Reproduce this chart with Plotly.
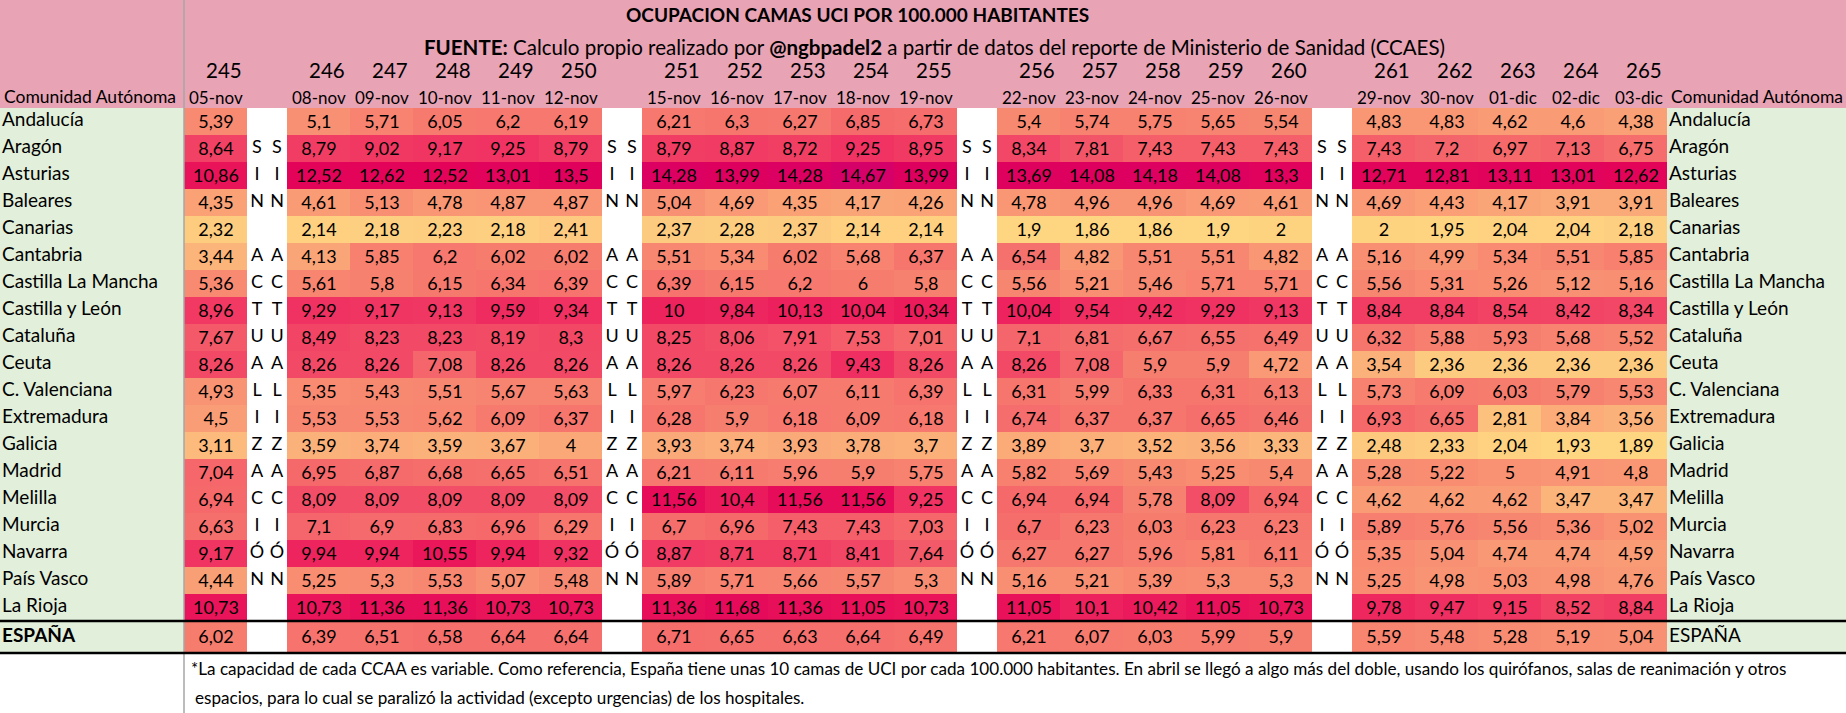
import plotly.graph_objects as go

# ---------------- DATA ----------------
report_nums = [245, 246, 247, 248, 249, 250, 251, 252, 253, 254, 255,
               256, 257, 258, 259, 260, 261, 262, 263, 264, 265]
dates = ["05-nov", "08-nov", "09-nov", "10-nov", "11-nov", "12-nov",
         "15-nov", "16-nov", "17-nov", "18-nov", "19-nov",
         "22-nov", "23-nov", "24-nov", "25-nov", "26-nov",
         "29-nov", "30-nov", "01-dic", "02-dic", "03-dic"]
group_sizes = [1, 5, 5, 5, 5]   # weeks between the "SIN ACTUALIZACIÓN" gaps

regions = ["Andalucía", "Aragón", "Asturias", "Baleares", "Canarias", "Cantabria",
           "Castilla La Mancha", "Castilla y León", "Cataluña", "Ceuta",
           "C. Valenciana", "Extremadura", "Galicia", "Madrid", "Melilla",
           "Murcia", "Navarra", "País Vasco", "La Rioja"]
total_label = "ESPAÑA"

andalucia = [5.39, 5.1, 5.71, 6.05, 6.2, 6.19, 6.21, 6.3, 6.27, 6.85, 6.73, 5.4, 5.74, 5.75, 5.65, 5.54, 4.83, 4.83, 4.62, 4.6, 4.38]
aragon = [8.64, 8.79, 9.02, 9.17, 9.25, 8.79, 8.79, 8.87, 8.72, 9.25, 8.95, 8.34, 7.81, 7.43, 7.43, 7.43, 7.43, 7.2, 6.97, 7.13, 6.75]
asturias = [10.86, 12.52, 12.62, 12.52, 13.01, 13.5, 14.28, 13.99, 14.28, 14.67, 13.99, 13.69, 14.08, 14.18, 14.08, 13.3, 12.71, 12.81, 13.11, 13.01, 12.62]
baleares = [4.35, 4.61, 5.13, 4.78, 4.87, 4.87, 5.04, 4.69, 4.35, 4.17, 4.26, 4.78, 4.96, 4.96, 4.69, 4.61, 4.69, 4.43, 4.17, 3.91, 3.91]
canarias = [2.32, 2.14, 2.18, 2.23, 2.18, 2.41, 2.37, 2.28, 2.37, 2.14, 2.14, 1.9, 1.86, 1.86, 1.9, 2, 2, 1.95, 2.04, 2.04, 2.18]
cantabria = [3.44, 4.13, 5.85, 6.2, 6.02, 6.02, 5.51, 5.34, 6.02, 5.68, 6.37, 6.54, 4.82, 5.51, 5.51, 4.82, 5.16, 4.99, 5.34, 5.51, 5.85]
castilla_la_mancha = [5.36, 5.61, 5.8, 6.15, 6.34, 6.39, 6.39, 6.15, 6.2, 6, 5.8, 5.56, 5.21, 5.46, 5.71, 5.71, 5.56, 5.31, 5.26, 5.12, 5.16]
castilla_y_leon = [8.96, 9.29, 9.17, 9.13, 9.59, 9.34, 10, 9.84, 10.13, 10.04, 10.34, 10.04, 9.54, 9.42, 9.29, 9.13, 8.84, 8.84, 8.54, 8.42, 8.34]
cataluna = [7.67, 8.49, 8.23, 8.23, 8.19, 8.3, 8.25, 8.06, 7.91, 7.53, 7.01, 7.1, 6.81, 6.67, 6.55, 6.49, 6.32, 5.88, 5.93, 5.68, 5.52]
ceuta = [8.26, 8.26, 8.26, 7.08, 8.26, 8.26, 8.26, 8.26, 8.26, 9.43, 8.26, 8.26, 7.08, 5.9, 5.9, 4.72, 3.54, 2.36, 2.36, 2.36, 2.36]
c_valenciana = [4.93, 5.35, 5.43, 5.51, 5.67, 5.63, 5.97, 6.23, 6.07, 6.11, 6.39, 6.31, 5.99, 6.33, 6.31, 6.13, 5.73, 6.09, 6.03, 5.79, 5.53]
extremadura = [4.5, 5.53, 5.53, 5.62, 6.09, 6.37, 6.28, 5.9, 6.18, 6.09, 6.18, 6.74, 6.37, 6.37, 6.65, 6.46, 6.93, 6.65, 2.81, 3.84, 3.56]
galicia = [3.11, 3.59, 3.74, 3.59, 3.67, 4, 3.93, 3.74, 3.93, 3.78, 3.7, 3.89, 3.7, 3.52, 3.56, 3.33, 2.48, 2.33, 2.04, 1.93, 1.89]
madrid = [7.04, 6.95, 6.87, 6.68, 6.65, 6.51, 6.21, 6.11, 5.96, 5.9, 5.75, 5.82, 5.69, 5.43, 5.25, 5.4, 5.28, 5.22, 5, 4.91, 4.8]
melilla = [6.94, 8.09, 8.09, 8.09, 8.09, 8.09, 11.56, 10.4, 11.56, 11.56, 9.25, 6.94, 6.94, 5.78, 8.09, 6.94, 4.62, 4.62, 4.62, 3.47, 3.47]
murcia = [6.63, 7.1, 6.9, 6.83, 6.96, 6.29, 6.7, 6.96, 7.43, 7.43, 7.03, 6.7, 6.23, 6.03, 6.23, 6.23, 5.89, 5.76, 5.56, 5.36, 5.02]
navarra = [9.17, 9.94, 9.94, 10.55, 9.94, 9.32, 8.87, 8.71, 8.71, 8.41, 7.64, 6.27, 6.27, 5.96, 5.81, 6.11, 5.35, 5.04, 4.74, 4.74, 4.59]
pais_vasco = [4.44, 5.25, 5.3, 5.53, 5.07, 5.48, 5.89, 5.71, 5.66, 5.57, 5.3, 5.16, 5.21, 5.39, 5.3, 5.3, 5.25, 4.98, 5.03, 4.98, 4.76]
la_rioja = [10.73, 10.73, 11.36, 11.36, 10.73, 10.73, 11.36, 11.68, 11.36, 11.05, 10.73, 11.05, 10.1, 10.42, 11.05, 10.73, 9.78, 9.47, 9.15, 8.52, 8.84]
espana = [6.02, 6.39, 6.51, 6.58, 6.64, 6.64, 6.71, 6.65, 6.63, 6.64, 6.49, 6.21, 6.07, 6.03, 5.99, 5.9, 5.59, 5.48, 5.28, 5.19, 5.04]

gap_letters = ["", "S", "I", "N", "", "A", "C", "T", "U", "A", "L", "I", "Z",
               "A", "C", "I", "Ó", "N", "", ""]

title_text = "<b>OCUPACION CAMAS UCI POR 100.000 HABITANTES</b>"
source_text = ("<b>FUENTE:</b> Calculo propio realizado por <b>@ngbpadel2</b> a partir de "
               "datos del reporte de Ministerio de Sanidad (CCAES)")
header_label = "Comunidad Autónoma"
footer_1 = ("*La capacidad de cada CCAA es variable. Como referencia, España tiene unas 10 camas "
            "de UCI por cada 100.000 habitantes. En abril se llegó a algo más del doble, usando "
            "los quirófanos, salas de reanimación y otros")
footer_2 = "espacios, para lo cual se paralizó la actividad (excepto urgencias) de los hospitales."

rows_values = [andalucia, aragon, asturias, baleares, canarias, cantabria,
               castilla_la_mancha, castilla_y_leon, cataluna, ceuta, c_valenciana,
               extremadura, galicia, madrid, melilla, murcia, navarra, pais_vasco,
               la_rioja, espana]

# ---------------- LAYOUT CONSTANTS ----------------
W, H = 1846, 713
LABEL_W = 184
DATA_W = 63
GAP_W = 20
HEADER_H = 108
ROW_H = 27
TOTAL_H = 32
FONT = "Lato"
PINK = "#E8A3B4"
GREEN = "#E2EFDA"

# column structure
kinds = []
for gi, n in enumerate(group_sizes):
    if gi > 0:
        kinds += ["g", "g"]
    kinds += ["d"] * n
x_edges = [LABEL_W]
for k in kinds:
    x_edges.append(x_edges[-1] + (DATA_W if k == "d" else GAP_W))
RIGHT_X = x_edges[-1]

n_rows = len(rows_values)
y_edges = [HEADER_H + ROW_H * i for i in range(n_rows)]
y_edges.append(y_edges[-1] + TOTAL_H)
row_centers = [(y_edges[i] + y_edges[i + 1]) / 2 for i in range(n_rows)]


def fmt(v):
    return ("%g" % v).replace(".", ",")


z, txt = [], []
for vals in rows_values:
    zr, tr, di = [], [], 0
    for k in kinds:
        if k == "d":
            zr.append(vals[di]); tr.append(fmt(vals[di])); di += 1
        else:
            zr.append(None); tr.append("")
    z.append(zr); txt.append(tr)

all_vals = [v for r in rows_values for v in r]
zmin, zmax = min(all_vals), max(all_vals)
color_stops = [(1.86, (254, 214, 129)), (4.2, (250, 164, 119)), (6.1, (246, 122, 110)),
               (7.4, (244, 96, 106)), (8.3, (242, 72, 102)), (9.3, (240, 50, 98)),
               (10.7, (234, 20, 90)), (12.5, (227, 4, 90)), (14.1, (222, 0, 95)),
               (14.67, (213, 0, 104))]
colorscale = [[max(0, min(1, (v - zmin) / (zmax - zmin))), "rgb(%d,%d,%d)" % c]
              for v, c in color_stops]
colorscale[0][0] = 0.0
colorscale[-1][0] = 1.0

fig = go.Figure()
fig.add_trace(go.Heatmap(
    x=x_edges, y=y_edges, z=z, text=txt, texttemplate="%{text}",
    textfont=dict(family=FONT, size=18, color="black"),
    colorscale=colorscale, zmin=zmin, zmax=zmax, showscale=False,
    hoverinfo="skip", xgap=0, ygap=0,
))

# gap letters ("SIN ACTUALIZACIÓN")
gx, gy, gt = [], [], []
for ci, k in enumerate(kinds):
    if k == "g":
        cx = (x_edges[ci] + x_edges[ci + 1]) / 2
        for ri, letter in enumerate(gap_letters):
            if letter:
                gx.append(cx); gy.append(row_centers[ri]); gt.append(letter)
fig.add_trace(go.Scatter(x=gx, y=gy, text=gt, mode="text", hoverinfo="skip",
                         textfont=dict(family=FONT, size=18, color="black"),
                         showlegend=False, cliponaxis=False))

# row labels (left + right)
left_labels = regions + ["<b>" + total_label + "</b>"]
right_labels = regions + [total_label]
fig.add_trace(go.Scatter(x=[2] * n_rows, y=row_centers, text=left_labels, mode="text",
                         textposition="middle right", hoverinfo="skip", showlegend=False,
                         textfont=dict(family=FONT, size=19, color="black"), cliponaxis=False))
fig.add_trace(go.Scatter(x=[RIGHT_X + 2] * n_rows, y=row_centers, text=right_labels, mode="text",
                         textposition="middle right", hoverinfo="skip", showlegend=False,
                         textfont=dict(family=FONT, size=19, color="black"), cliponaxis=False))

shapes = [
    dict(type="rect", x0=0, x1=W, y0=0, y1=HEADER_H, fillcolor=PINK, line_width=0, layer="below"),
    dict(type="rect", x0=0, x1=LABEL_W, y0=HEADER_H, y1=y_edges[-1], fillcolor=GREEN, line_width=0, layer="below"),
    dict(type="rect", x0=RIGHT_X, x1=W, y0=HEADER_H, y1=y_edges[-1], fillcolor=GREEN, line_width=0, layer="below"),
    dict(type="line", x0=LABEL_W, x1=LABEL_W, y0=0, y1=H, line=dict(color="#A6A6A6", width=1.5)),
    dict(type="line", x0=0, x1=W, y0=y_edges[-2], y1=y_edges[-2], line=dict(color="black", width=2.5)),
    dict(type="line", x0=0, x1=W, y0=y_edges[-1], y1=y_edges[-1], line=dict(color="black", width=2.5)),
]

annotations = [
    dict(x=857, y=14, text=title_text, showarrow=False, xanchor="center", yanchor="middle",
         font=dict(family=FONT, size=19, color="black")),
    dict(x=934, y=47, text=source_text, showarrow=False, xanchor="center", yanchor="middle",
         font=dict(family=FONT, size=20.5, color="black")),
    dict(x=2, y=96, text=header_label, showarrow=False, xanchor="left", yanchor="middle",
         font=dict(family=FONT, size=17.5, color="black")),
    dict(x=RIGHT_X + 2, y=96, text=header_label, showarrow=False, xanchor="left", yanchor="middle",
         font=dict(family=FONT, size=17.5, color="black")),
    dict(x=189, y=668, text=footer_1, showarrow=False, xanchor="left", yanchor="middle",
         font=dict(family=FONT, size=17.1, color="black")),
    dict(x=193, y=697, text=footer_2, showarrow=False, xanchor="left", yanchor="middle",
         font=dict(family=FONT, size=17.1, color="black")),
]
di = 0
for ci, k in enumerate(kinds):
    if k == "d":
        xr = x_edges[ci + 1]
        annotations.append(dict(x=xr - 3, y=70, text=str(report_nums[di]), showarrow=False,
                                xanchor="right", yanchor="middle",
                                font=dict(family=FONT, size=20.5, color="black")))
        annotations.append(dict(x=xr - 2, y=97, text=dates[di], showarrow=False,
                                xanchor="right", yanchor="middle",
                                font=dict(family=FONT, size=17, color="black")))
        di += 1

fig.update_layout(
    width=W, height=H, margin=dict(l=0, r=0, t=0, b=0),
    paper_bgcolor="white", plot_bgcolor="white",
    xaxis=dict(range=[0, W], visible=False, fixedrange=True),
    yaxis=dict(range=[H, 0], visible=False, fixedrange=True),
    shapes=shapes, annotations=annotations, showlegend=False,
    font=dict(family=FONT),
)
fig.write_html("out.html", config={"displayModeBar": False},
               post_script="document.body.style.margin='0';document.body.style.overflow='hidden';")
